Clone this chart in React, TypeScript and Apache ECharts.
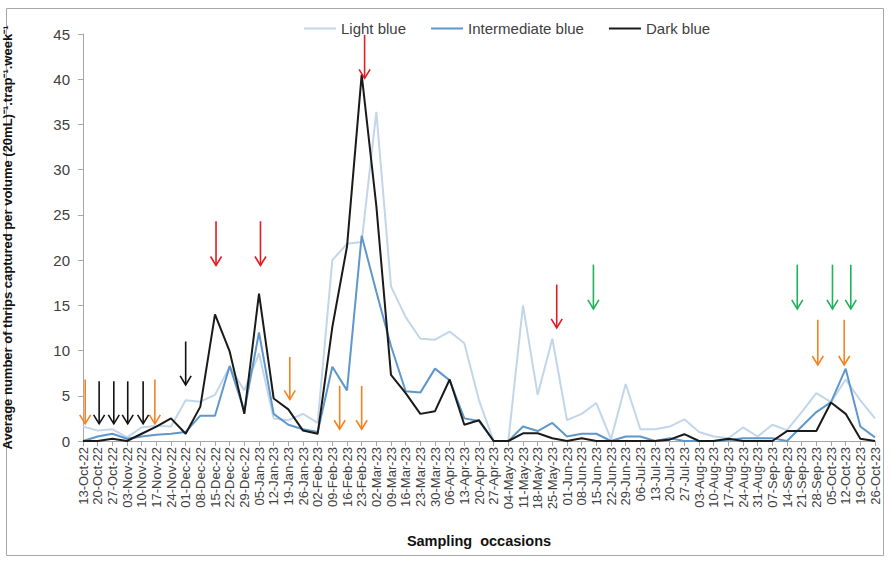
import React, { useEffect, useRef } from "react";
import * as echarts from "echarts";

const categories = [
  "13-Oct-22","20-Oct-22","27-Oct-22","03-Nov-22","10-Nov-22","17-Nov-22","24-Nov-22","01-Dec-22","08-Dec-22","15-Dec-22","22-Dec-22","29-Dec-22","05-Jan-23","12-Jan-23","19-Jan-23","26-Jan-23","02-Feb-23","09-Feb-23","16-Feb-23","23-Feb-23","02-Mar-23","09-Mar-23","16-Mar-23","23-Mar-23","30-Mar-23","06-Apr-23","13-Apr-23","20-Apr-23","27-Apr-23","04-May-23","11-May-23","18-May-23","25-May-23","01-Jun-23","08-Jun-23","15-Jun-23","22-Jun-23","29-Jun-23","06-Jul-23","13-Jul-23","20-Jul-23","27-Jul-23","03-Aug-23","10-Aug-23","17-Aug-23","24-Aug-23","31-Aug-23","07-Sep-23","14-Sep-23","21-Sep-23","28-Sep-23","05-Oct-23","12-Oct-23","19-Oct-23","26-Oct-23",
];

const lightBlue = [
  1.6, 1.15, 1.3, 0.4, 1.5, 1.7, 1.6, 4.5, 4.35, 5.1, 8.2, 5.6, 9.7, 2.5, 2.3, 3.0, 2.0, 20.0, 21.8, 22.0, 36.4, 17.1, 13.7, 11.3, 11.2, 12.1, 10.8, 4.5, 0, 0, 15.0, 5.1, 11.3, 2.3, 3.0, 4.2, 0.2, 6.3, 1.3, 1.3, 1.6, 2.4, 1.0, 0.5, 0.3, 1.5, 0.5, 1.8, 1.2, 3.2, 5.3, 4.3, 6.8, 4.5, 2.5,
];

const intermediateBlue = [
  0, 0.5, 0.8, 0.25, 0.5, 0.7, 0.8, 1.0, 2.8, 2.8, 8.3, 3.3, 12.0, 3.0, 1.8, 1.3, 1.0, 8.2, 5.6, 22.7, 16.5, 10.5, 5.5, 5.35, 8.0, 6.7, 2.5, 2.2, 0, 0, 1.6, 1.1, 2.0, 0.5, 0.8, 0.8, 0, 0.5, 0.5, 0, 0.3, 0, 0, 0, 0.1, 0.3, 0.3, 0.3, 0, 1.6, 3.2, 4.3, 8.0, 1.6, 0.4,
];

const darkBlue = [
  0, 0, 0.25, 0, 0.8, 1.6, 2.5, 0.8, 3.8, 14.0, 9.9, 3.0, 16.3, 4.7, 3.5, 1.15, 0.8, 12.6, 21.5, 40.5, 26.0, 7.3, 5.3, 3.0, 3.3, 6.8, 1.8, 2.3, 0, 0, 0.85, 0.85, 0.3, 0, 0.3, 0, 0, 0, 0, 0, 0.15, 0.75, 0, 0, 0.25, 0, 0, 0, 1.1, 1.1, 1.1, 4.25, 3.0, 0.25, 0,
];

const yTicks = { min: 0, max: 45, interval: 5 };

// arrows: [position on the week index scale, top value, tip value]
const orangeArrows = [
  [0.15, 6.8, 1.9], [4.9, 6.8, 1.9], [14.1, 9.3, 4.6], [17.5, 6.1, 1.3], [19.0, 6.1, 1.3], [50.1, 13.4, 8.4], [51.9, 13.4, 8.4],
];
const blackArrows = [
  [1.1, 6.6, 1.9], [2.1, 6.6, 1.9], [3.05, 6.6, 1.9], [4.1, 6.6, 1.9], [7.0, 11.0, 6.2],
];
const redArrows = [
  [9.07, 24.3, 19.4], [12.1, 24.3, 19.4], [19.2, 44.9, 40.1], [32.3, 17.3, 12.5],
];
const greenArrows = [
  [34.8, 19.5, 14.6], [48.7, 19.5, 14.6], [51.1, 19.5, 14.6], [52.35, 19.5, 14.6],
];

const FONT = "Liberation Sans, Arial, sans-serif";

function arrowSeries(name: string, data: number[][], color: string) {
  return {
    name,
    type: "custom",
    xAxisIndex: 1,
    yAxisIndex: 0,
    silent: true,
    z: 5,
    data,
    renderItem: (params: any, api: any) => {
      const x = api.value(0);
      const p1 = api.coord([x, api.value(1)]);
      const p2 = api.coord([x, api.value(2)]);
      return {
        type: "group",
        children: [
          {
            type: "line",
            shape: { x1: p1[0], y1: p1[1], x2: p2[0], y2: p2[1] },
            style: { stroke: color, lineWidth: 1.6 },
          },
          {
            type: "polyline",
            shape: {
              points: [
                [p2[0] - 5.5, p2[1] - 9],
                [p2[0], p2[1]],
                [p2[0] + 5.5, p2[1] - 9],
              ],
            },
            style: { stroke: color, fill: null, lineWidth: 1.6 },
          },
        ],
      };
    },
  };
}

export default function App() {
  const ref = useRef<HTMLDivElement>(null);
  useEffect(() => {
    if (!ref.current) return;
    const chart = echarts.init(ref.current, null, { renderer: "svg" });
    const lineBase = {
      type: "line",
      symbol: "none",
      showSymbol: false,
      xAxisIndex: 0,
      yAxisIndex: 0,
    };
    chart.setOption({
      animation: false,
      backgroundColor: "#ffffff",
      textStyle: { fontFamily: FONT },
      graphic: [
        {
          type: "rect",
          shape: { x: 6.5, y: 8.5, width: 877, height: 547 },
          style: { stroke: "#a8a8a8", fill: null, lineWidth: 1 },
          silent: true,
        },
      ],
      legend: {
        top: 16,
        left: 299,
        icon: "rect",
        itemWidth: 32,
        itemHeight: 2,
        itemGap: 25,
        textStyle: { fontFamily: FONT, fontSize: 15, color: "#404040" },
        data: ["Light blue", "Intermediate blue", "Dark blue"],
      },
      grid: { left: 83, right: 15, top: 34, bottom: 121, containLabel: false, outerBoundsMode: "none" },
      xAxis: [
        {
          type: "category",
          data: categories,
          boundaryGap: false,
          name: "Sampling  occasions",
          nameLocation: "middle",
          nameGap: 92,
          nameTextStyle: { fontFamily: FONT, fontSize: 14.5, fontWeight: "bold", color: "#111" },
          axisLine: { lineStyle: { color: "#a6a6a6", width: 1 } },
          axisTick: { show: true, alignWithLabel: true, interval: 0, length: 5, lineStyle: { color: "#a6a6a6" } },
          axisLabel: { interval: 0, rotate: 90, fontSize: 13, color: "#404040", fontFamily: FONT, margin: 6 },
          splitLine: { show: false },
        },
        {
          type: "value",
          min: 0,
          max: categories.length - 1,
          show: false,
        },
      ],
      yAxis: [
        {
          type: "value",
          min: yTicks.min,
          max: yTicks.max,
          interval: yTicks.interval,
          name: "Average number of thrips captured per volume (20mL)\u207B\u00B9.trap\u207B\u00B9.week\u207B\u00B9",
          nameLocation: "middle",
          nameGap: 69,
          nameTextStyle: { fontFamily: FONT, fontSize: 13, fontWeight: "bold", color: "#111" },
          axisLine: { show: true, lineStyle: { color: "#a6a6a6", width: 1 } },
          axisTick: { show: true, length: 5, lineStyle: { color: "#a6a6a6" } },
          axisLabel: { fontSize: 15, color: "#404040", fontFamily: FONT, margin: 13 },
          splitLine: { show: false },
        },
      ],
      series: [
        { ...lineBase, name: "Light blue", data: lightBlue, z: 2, lineStyle: { color: "#c2d6e9", width: 2 }, itemStyle: { color: "#c2d6e9" } },
        { ...lineBase, name: "Intermediate blue", data: intermediateBlue, z: 3, lineStyle: { color: "#5f97cb", width: 2 }, itemStyle: { color: "#5f97cb" } },
        { ...lineBase, name: "Dark blue", data: darkBlue, z: 4, lineStyle: { color: "#1a1a1a", width: 2 }, itemStyle: { color: "#1a1a1a" } },
        arrowSeries("orangeArrows", orangeArrows, "#f58220"),
        arrowSeries("blackArrows", blackArrows, "#111111"),
        arrowSeries("redArrows", redArrows, "#e31b23"),
        arrowSeries("greenArrows", greenArrows, "#1fb25a"),
      ],
    });
    return () => chart.dispose();
  }, []);
  return (
    <div
      ref={ref}
      style={{ position: "absolute", left: 0, top: 0, width: 890, height: 562 }}
    />
  );
}
